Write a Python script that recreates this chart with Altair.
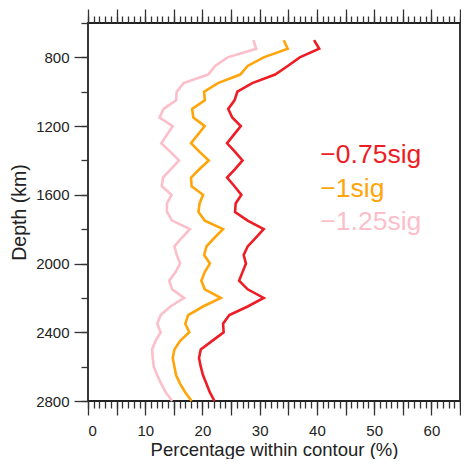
import altair as alt
import pandas as pd

# ---- data ----
depths = [700, 750, 800, 850, 900, 950, 1000, 1050, 1100, 1150,
          1200, 1250, 1300, 1350, 1400, 1450, 1500, 1550, 1600, 1650, 1700,
          1750, 1800, 1850, 1900, 1950, 2000, 2050, 2100, 2150, 2200,
          2250, 2300, 2350, 2400, 2450, 2500, 2550, 2600, 2650, 2700, 2750, 2800]
red_pct = [39.5, 40.4, 37.0, 34.9, 32.7, 28.7, 26.1, 25.6, 24.5, 25.2,
           26.7, 25.5, 24.3, 25.7, 27.0, 25.7, 24.3, 25.6, 26.8, 25.8, 25.7,
           27.9, 30.7, 29.3, 27.9, 27.2, 27.6, 27.0, 26.4, 27.9, 30.7,
           27.9, 24.7, 23.6, 23.7, 21.7, 19.7, 19.4, 19.7, 20.1, 20.7, 21.3, 22.1]
orange_pct = [34.2, 34.9, 30.7, 27.9, 26.6, 22.7, 20.3, 20.4, 18.2, 18.4,
              20.4, 19.2, 18.0, 19.5, 21.1, 19.5, 18.0, 18.1, 20.1, 19.5, 19.3,
              20.4, 23.6, 22.1, 20.7, 20.3, 21.3, 20.4, 19.8, 20.4, 23.2,
              20.1, 17.5, 17.0, 17.7, 16.1, 15.1, 14.8, 15.1, 15.4, 16.1, 17.0, 18.1]
pink_pct = [28.9, 29.4, 24.4, 22.2, 21.0, 16.7, 15.5, 15.4, 13.2, 12.5,
            14.8, 13.8, 12.8, 14.4, 15.9, 14.5, 13.1, 12.9, 14.6, 13.8, 13.8,
            14.7, 17.8, 16.4, 15.1, 15.5, 16.1, 15.3, 14.2, 14.7, 16.8,
            14.4, 12.7, 12.1, 12.7, 11.8, 11.2, 11.3, 11.5, 12.1, 12.8, 13.6, 14.7]

series_names = ["\u22120.75sig", "\u22121sig", "\u22121.25sig"]
series_colors = ["#ee1c24", "#ffa50a", "#fcbfca"]

# text-label anchor positions (data coordinates)
label_depths = [1417, 1611, 1805]
label_pct = 40.6

x_major = [0, 5, 10, 15, 20, 25, 30, 35, 40, 45, 50, 55, 60, 65]
x_minor = list(range(0, 66))
y_major = [800, 1200, 1600, 2000, 2400, 2800]
y_minor = [600, 800, 1000, 1200, 1400, 1600, 1800, 2000, 2200, 2400, 2600, 2800]

FONT = "Liberation Sans"
INK = "#222222"

rows = []
for name, vals in zip(series_names, [red_pct, orange_pct, pink_pct]):
    for d, v in zip(depths, vals):
        rows.append({"series": name, "depth": d, "pct": v})
df = pd.DataFrame(rows)
text_df = pd.DataFrame({"series": series_names, "depth": label_depths,
                        "pct": [label_pct] * len(series_names)})

xs = alt.Scale(domain=[0, 65], nice=False, zero=False)
ys = alt.Scale(domain=[600, 2800], reverse=True, nice=False, zero=False)
cs = alt.Scale(domain=series_names, range=series_colors)


def axis(orient, values, size, **kw):
    base = dict(orient=orient, values=values, tickSize=size, domain=False,
                grid=False, tickColor="#333333", tickWidth=1.3)
    base.update(kw)
    if "labels" not in kw:
        base["labels"] = False
    if "title" not in kw:
        base["title"] = None
    return alt.Axis(**base)


base = alt.Chart(df)

lines = base.mark_line(strokeWidth=2.6).encode(
    x=alt.X("pct:Q", scale=xs,
            axis=axis("bottom", x_major, 14, labels=True,
                      labelExpr="datum.value % 10 === 0 ? datum.label : ''",
                      labelFontSize=15, labelPadding=8,
                      title="Percentage within contour (%)",
                      titleFontSize=18.5, titleFontWeight="normal",
                      titleBaseline="alphabetic", titleY=54)),
    y=alt.Y("depth:Q", scale=ys,
            axis=axis("left", y_major, 14, labels=True, format="d",
                      labelFontSize=15, labelPadding=5,
                      title="Depth (km)", titleFontSize=19.5,
                      titleFontWeight="normal", titlePadding=6)),
    color=alt.Color("series:N", scale=cs, legend=None),
    order=alt.Order("depth:Q"),
    detail="series:N",
)

minor = base.mark_line(opacity=0).encode(
    x=alt.X("pct:Q", scale=xs, axis=axis("bottom", x_minor, 7)),
    y=alt.Y("depth:Q", scale=ys, axis=axis("left", y_minor, 7)),
    detail="series:N",
)

top_right_major = base.mark_line(opacity=0).encode(
    x=alt.X("pct:Q", scale=xs, axis=axis("top", x_major, 14)),
    y=alt.Y("depth:Q", scale=ys, axis=axis("right", y_major, 14)),
    detail="series:N",
)

top_right_minor = base.mark_line(opacity=0).encode(
    x=alt.X("pct:Q", scale=xs, axis=axis("top", x_minor, 7)),
    y=alt.Y("depth:Q", scale=ys, axis=axis("right", y_minor, 7)),
    detail="series:N",
)

labels = alt.Chart(text_df).mark_text(
    align="left", baseline="alphabetic", font=FONT, fontSize=26.5
).encode(
    x=alt.X("pct:Q", scale=xs, axis=None),
    y=alt.Y("depth:Q", scale=ys, axis=None),
    text="series:N",
    color=alt.Color("series:N", scale=cs, legend=None),
)

chart = alt.layer(lines, minor, top_right_major, top_right_minor, labels).resolve_axis(
    x="independent", y="independent"
).properties(
    width=372, height=378,
    autosize=alt.AutoSizeParams(type="none"),
    padding={"left": 80, "top": 15, "right": 1, "bottom": 58},
).configure_view(
    stroke=INK, strokeWidth=1.8
).configure_axis(
    labelFont=FONT, titleFont=FONT, labelColor=INK, titleColor=INK
)

chart.save("out.html", embed_options={"renderer": "svg", "actions": False})
